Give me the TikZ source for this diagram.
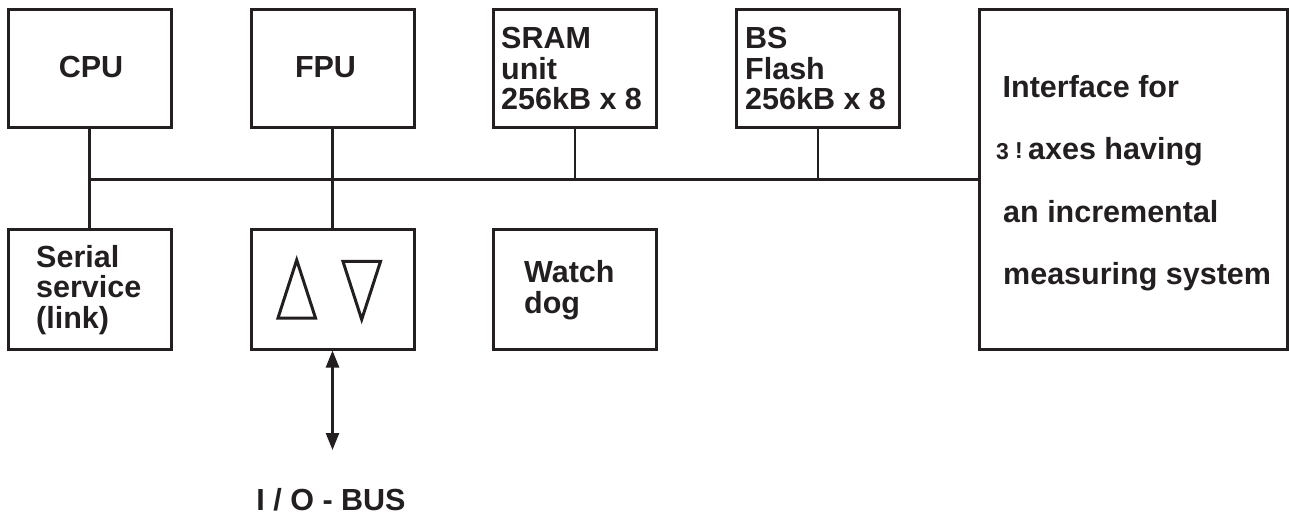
\documentclass[tikz,border=0pt]{standalone}
\usepackage{fontspec}
\setmainfont{Liberation Sans}
\usetikzlibrary{arrows.meta}
\definecolor{ink}{RGB}{35,31,32}
\begin{document}
\begin{tikzpicture}[x=1pt,y=-1pt,
  box/.style={draw=ink,line width=3pt,inner sep=0pt,minimum width=163pt,minimum height=118pt},
  txt/.style={inner sep=0pt,text=ink,font=\fontsize{30.5}{30.5}\selectfont\bfseries},
  smalltxt/.style={inner sep=0pt,text=ink,font=\fontsize{23}{23}\selectfont\bfseries},
  wire/.style={draw=ink,line width=2.5pt},
  tri/.style={draw=ink,line width=3pt,line join=miter}]
\useasboundingbox (0,0) rectangle (1289,518);
% boxes
\node[box] (cpu) at (89.5,69) {};
\node[box] (fpu) at (332.5,69) {};
\node[box] (sram) at (575,69) {};
\node[box] (bs) at (818,69) {};
\node[box,minimum height=119pt] (ser) at (89.5,289.5) {};
\node[box,minimum height=119pt] (drv) at (332.5,289.5) {};
\node[box,minimum height=119pt] (wd) at (575,289.5) {};
\node[box,minimum width=308pt,minimum height=339pt] (iface) at (1133,179.5) {};
% connectors
\draw[wire] (cpu.south) -- (ser.north);
\draw[wire] (fpu.south) -- (drv.north);
\draw[wire] (cpu.south |- iface.west) -- (iface.west);
\draw[wire] (sram.south) -- (sram.south |- iface.west);
\draw[wire] (bs.south) -- (bs.south |- iface.west);
\coordinate (ioend) at (332.5,450);
\draw[wire,{Triangle[width=13pt,length=17pt]}-{Triangle[width=13pt,length=17pt]}] (drv.south) -- (ioend);
% triangles in driver box
\draw[tri] (296.7,260) -- (278,318) -- (315.5,318) -- cycle;
\draw[tri] (343,261.5) -- (380.5,261.5) -- (361.7,319.5) -- cycle;
% texts
\node[txt,anchor=base] (tcpu) at (91,78) {CPU};
\node[txt,anchor=base] (tfpu) at (325.5,78) {FPU};
\node[txt,anchor=base west] (ts1) at (501,49) {SRAM};
\node[txt,anchor=base west] (ts2) at (501,79.5) {unit};
\node[txt,anchor=base west] (ts3) at (501,110) {256kB x 8};
\node[txt,anchor=base west] (tb1) at (745,49) {BS};
\node[txt,anchor=base west] (tb2) at (745,79.5) {Flash};
\node[txt,anchor=base west] (tb3) at (745,110) {256kB x 8};
\node[txt,anchor=base west] (tse1) at (36,268) {Serial};
\node[txt,anchor=base west] (tse2) at (36,298) {service};
\node[txt,anchor=base west] (tse3) at (36,328) {(link)};
\node[txt,anchor=base west] (tw1) at (524,283) {Watch};
\node[txt,anchor=base west] (tw2) at (524,313) {dog};
\node[txt,anchor=base west] (ti1) at (1002.5,97.5) {Interface for};
\node[smalltxt,anchor=base west] (ti2a) at (996,160) {3};
\node[smalltxt,anchor=base] (ti2b) at (1019,159) {!};
\node[txt,anchor=base west] (ti2) at (1028,160) {axes having};
\node[txt,anchor=base west] (ti3) at (1003,222.5) {an incremental};
\node[txt,anchor=base west] (ti4) at (1003,285) {measuring system};
\node[txt,anchor=base] (io) at (331,510) {I / O - BUS};
\end{tikzpicture}
\end{document}
